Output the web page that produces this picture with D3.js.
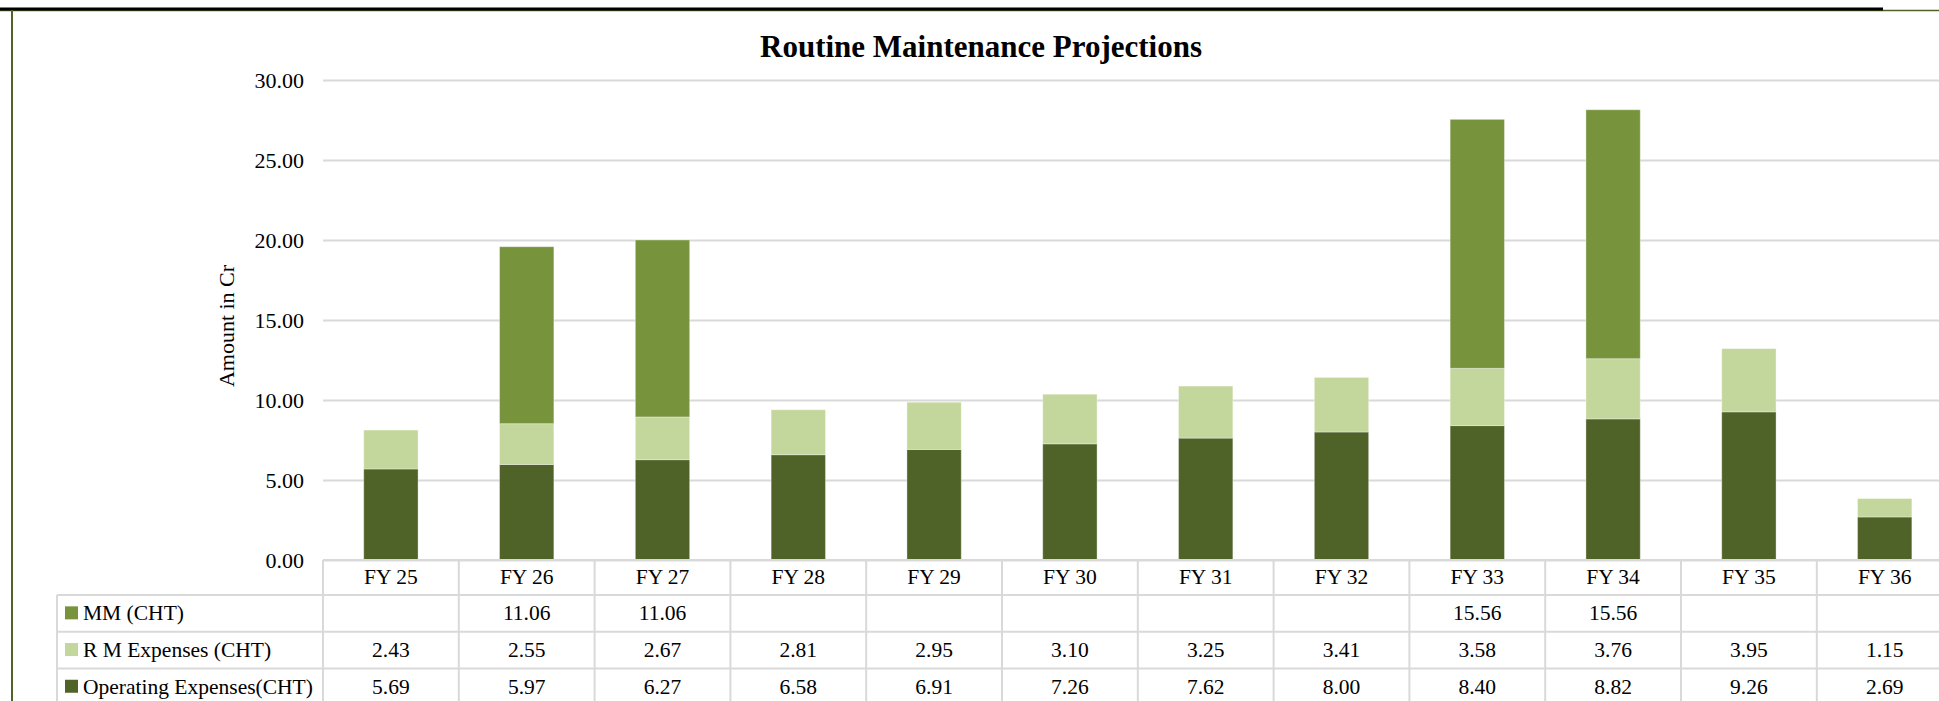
<!DOCTYPE html>
<html>
<head>
<meta charset="utf-8">
<script src="https://cdn.jsdelivr.net/npm/d3@7"></script>
<style>
  body { margin: 0; background: #fff; overflow: hidden; }
  text { font-family: "Liberation Serif", "Times New Roman", serif; fill: #000; }
</style>
</head>
<body>
<div id="chart"></div>
<script>
// data
var years = ["FY 25", "FY 26", "FY 27", "FY 28", "FY 29", "FY 30", "FY 31", "FY 32", "FY 33", "FY 34", "FY 35", "FY 36"];
var opex = [5.69, 5.97, 6.27, 6.58, 6.91, 7.26, 7.62, 8.00, 8.40, 8.82, 9.26, 2.69];
var rmExp = [2.43, 2.55, 2.67, 2.81, 2.95, 3.10, 3.25, 3.41, 3.58, 3.76, 3.95, 1.15];
var mm = [null, 11.06, 11.06, null, null, null, null, null, 15.56, 15.56, null, null];
var yTicks = [0, 5, 10, 15, 20, 25, 30];

var seriesNames = ["MM (CHT)", "R M Expenses (CHT)", "Operating Expenses(CHT)"];
var seriesKeys = ["mm", "rm", "op"];
var seriesColors = {mm: "#77933C", rm: "#C3D69B", op: "#4F6228"};

var W = 1939, H = 701;
var svg = d3.select("#chart").append("svg")
  .attr("width", W)
  .attr("height", H);

// frame lines
svg.append("line").attr("x1", 0).attr("x2", W).attr("y1", 10.5).attr("y2", 10.5)
  .attr("stroke", "#4F6228").attr("stroke-width", 1.5);
svg.append("line").attr("x1", 0).attr("x2", 1883).attr("y1", 9).attr("y2", 9)
  .attr("stroke", "#000").attr("stroke-width", 3);
svg.append("line").attr("x1", 12).attr("x2", 12).attr("y1", 10).attr("y2", H)
  .attr("stroke", "#4F6228").attr("stroke-width", 2);

var plotLeft = 323, colW = 135.8;
var x = d3.scaleBand()
  .domain(years)
  .range([plotLeft, plotLeft + colW * years.length])
  .padding(0);

var y = d3.scaleLinear()
  .domain([0, 30])
  .range([560, 80]);

// title
svg.append("text")
  .attr("x", 981)
  .attr("y", 57)
  .attr("text-anchor", "middle")
  .style("font-size", "31px")
  .style("font-weight", "bold")
  .text("Routine Maintenance Projections");

// gridlines + y labels
var yAxis = svg.append("g")
  .attr("transform", "translate(" + plotLeft + ",0)")
  .call(d3.axisLeft(y).tickValues(yTicks).tickFormat(d3.format(".2f"))
    .tickSize(-(colW * years.length)).tickPadding(19));
yAxis.select(".domain").remove();
yAxis.selectAll(".tick line").attr("stroke", "#D9D9D9").attr("stroke-width", 2);
yAxis.selectAll(".tick text")
  .style("font-family", "'Liberation Serif', serif")
  .style("font-size", "22px")
  .attr("fill", "#000");

svg.append("text")
  .attr("transform", "translate(234,326) rotate(-90)")
  .attr("text-anchor", "middle")
  .style("font-size", "22px")
  .text("Amount in Cr");

// stacked bars
var rows = years.map(function(d, i) {
  return {year: d, op: opex[i], rm: rmExp[i], mm: mm[i] || 0};
});
var stack = d3.stack().keys(["op", "rm", "mm"]);
var layers = stack(rows);
var barW = x.bandwidth() * 0.4;

svg.append("g").selectAll("g")
  .data(layers)
  .enter().append("g")
  .attr("fill", function(d) { return seriesColors[d.key]; })
  .selectAll("rect")
  .data(function(d) { return d.filter(function(p) { return p[1] - p[0] > 0; }); })
  .enter().append("rect")
  .attr("x", function(d) { return x(d.data.year) + (x.bandwidth() - barW) / 2; })
  .attr("width", barW)
  .attr("y", function(d) { return y(d[1]); })
  .attr("height", function(d) { return y(d[0]) - y(d[1]); })
  .attr("stroke", "#fff")
  .attr("stroke-opacity", 0.35)
  .attr("stroke-width", 1);

// data table
var tableTop = 560, headH = 35, rowH = 36.7;
var legendLeft = 57;
var rowY = d3.scaleBand()
  .domain(seriesNames)
  .range([tableTop + headH, tableTop + headH + rowH * 3]);
var tableRight = plotLeft + colW * years.length;
var lineColor = "#D9D9D9";
var fs = "21.5px";

var tbl = svg.append("g");
// horizontal lines
tbl.append("line").attr("x1", plotLeft).attr("x2", tableRight)
  .attr("y1", tableTop).attr("y2", tableTop)
  .attr("stroke", lineColor).attr("stroke-width", 2);
rowY.domain().forEach(function(name) {
  tbl.append("line").attr("x1", legendLeft).attr("x2", tableRight)
    .attr("y1", rowY(name)).attr("y2", rowY(name))
    .attr("stroke", lineColor).attr("stroke-width", 2);
});
// vertical lines
tbl.append("line").attr("x1", legendLeft).attr("x2", legendLeft)
  .attr("y1", tableTop + headH).attr("y2", H)
  .attr("stroke", lineColor).attr("stroke-width", 2);
years.forEach(function(d) {
  tbl.append("line").attr("x1", x(d)).attr("x2", x(d))
    .attr("y1", tableTop).attr("y2", H)
    .attr("stroke", lineColor).attr("stroke-width", 2);
});

// header row
tbl.selectAll(".hdr")
  .data(years)
  .enter().append("text")
  .attr("class", "hdr")
  .attr("x", function(d) { return x(d) + x.bandwidth() / 2; })
  .attr("y", tableTop + headH / 2)
  .attr("dy", "0.32em")
  .attr("text-anchor", "middle")
  .style("font-size", fs)
  .text(function(d) { return d; });

// legend cells
var seriesVals = {mm: mm, rm: rmExp, op: opex};
seriesNames.forEach(function(name, k) {
  var key = seriesKeys[k];
  var cy = rowY(name) + rowY.bandwidth() / 2;
  tbl.append("rect")
    .attr("x", 65).attr("y", cy - 7)
    .attr("width", 13).attr("height", 13)
    .attr("fill", seriesColors[key]);
  tbl.append("text")
    .attr("x", 83).attr("y", cy)
    .attr("dy", "0.32em")
    .style("font-size", fs)
    .text(name);
  tbl.selectAll(".v-" + key)
    .data(seriesVals[key])
    .enter().append("text")
    .attr("x", function(d, i) { return x(years[i]) + x.bandwidth() / 2; })
    .attr("y", cy)
    .attr("dy", "0.32em")
    .attr("text-anchor", "middle")
    .style("font-size", fs)
    .text(function(d) { return d == null ? "" : d3.format(".2f")(d); });
});
</script>
</body>
</html>
